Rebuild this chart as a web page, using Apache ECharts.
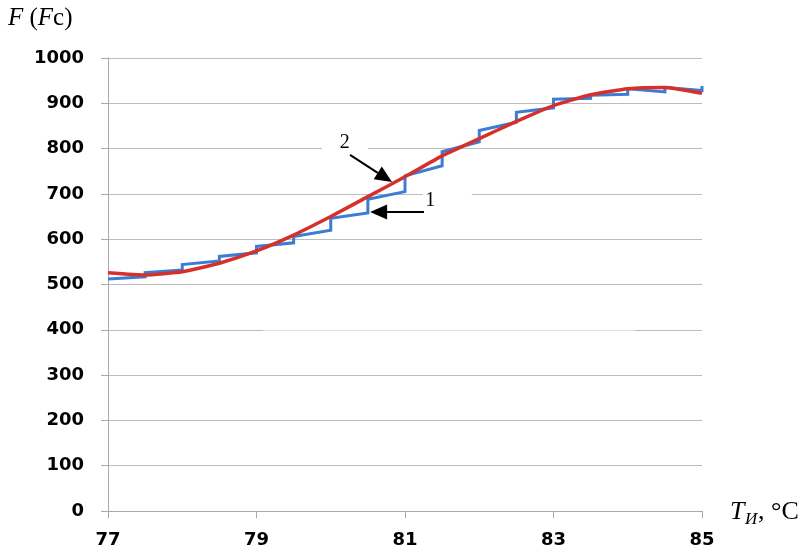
<!DOCTYPE html>
<html>
<head>
<meta charset="utf-8">
<script src="https://cdn.jsdelivr.net/npm/echarts@6/dist/echarts.min.js"></script>
<style>html,body{margin:0;padding:0;background:#fff}#c{width:806px;height:553px}</style>
</head>
<body>
<div id="c"></div>
<script>
// Temperature steps (°C)
const stepX = [77, 77.5, 78, 78.5, 79, 79.5, 80, 80.5, 81, 81.5, 82, 82.5, 83, 83.5, 84, 84.5, 85];
// Curve 1 (stepped): value reached just before each step, and value just after the jump
const stepBefore = [512, 517, 532, 552, 570, 592, 620, 658, 705, 762, 815, 858, 890, 911, 920, 925, 928];
const stepAfter  = [512, 526, 544, 562, 584, 606, 646, 688, 740, 793, 840, 880, 909, 918, 932, 935, 938];
// Curve 2 (smooth)
const smoothY = [526, 521, 528, 547, 574, 609, 650, 694, 738, 784, 822, 860, 895, 919, 932, 935, 922];
// Axis ticks
const xTicks = [77, 79, 81, 83, 85];
const yMin = 0, yMax = 1000, yStep = 100;

const stepData = [];
stepX.forEach((x, i) => { stepData.push([x, stepBefore[i]]); stepData.push([x, stepAfter[i]]); });
const smoothData = stepX.map((x, i) => [x, smoothY[i]]);

const chart = echarts.init(document.getElementById('c'), null, {renderer: 'canvas'});
const gridCol = '#bcbcbc';
chart.setOption({
  animation: false,
  backgroundColor: '#fff',
  grid: {left: 108, right: 104, top: 58, bottom: 42},
  xAxis: {
    type: 'value', min: 77, max: 85, interval: 1,
    axisLine: {show: true, lineStyle: {color: '#a9a9a9', width: 1}},
    axisTick: {show: true, length: 7, customValues: xTicks, lineStyle: {color: '#a9a9a9'}},
    axisLabel: {customValues: xTicks, margin: 20, color: '#000', fontFamily: 'DejaVu Sans', fontWeight: 'bold', fontSize: 18,
                formatter: v => String(v)},
    splitLine: {show: false}
  },
  yAxis: {
    type: 'value', min: yMin, max: yMax, interval: yStep,
    axisLine: {show: true, lineStyle: {color: '#a9a9a9', width: 1}},
    axisTick: {show: true, length: 7, lineStyle: {color: '#a9a9a9'}},
    axisLabel: {margin: 24, color: '#000', fontFamily: 'DejaVu Sans', fontWeight: 'bold', fontSize: 18,
                formatter: v => String(v)},
    splitLine: {show: true, lineStyle: {color: gridCol, width: 1}}
  },
  series: [
    {type: 'line', data: stepData, showSymbol: false, symbol: 'none', z: 3,
     lineStyle: {color: '#3b7dd5', width: 3, join: 'miter'}},
    {type: 'line', data: smoothData, showSymbol: false, symbol: 'none', smooth: 0.15, z: 4,
     lineStyle: {color: '#d5302c', width: 3.5}}
  ]
});

// annotation anchors in data units
const arrow2 = {from: [80.26, 786], to: [80.825, 726], label: [80.19, 812], text: '2'};
const arrow1 = {from: [81.256, 660], to: [80.53, 660], label: [81.34, 685], text: '1'};
const gaps = [
  {x0: 79.88, x1: 80.5, y: 800, opacity: 1},
  {x0: 81.24, x1: 81.9, y: 700, opacity: 1},
  {x0: 79.09, x1: 84.1, y: 400, opacity: 0.55}
];

const px = p => chart.convertToPixel({gridIndex: 0}, p);
const g = [];
gaps.forEach(gp => {
  const a = px([gp.x0, gp.y]), b = px([gp.x1, gp.y]);
  g.push({type: 'rect', z: 1, shape: {x: a[0], y: a[1] - 2, width: b[0] - a[0], height: 4},
          style: {fill: '#fff', opacity: gp.opacity}, silent: true});
});
[arrow2, arrow1].forEach(ar => {
  const s = px(ar.from), t = px(ar.to);
  const dx = t[0] - s[0], dy = t[1] - s[1], L = Math.hypot(dx, dy);
  const ux = dx / L, uy = dy / L, hl = 17, hw = 7.5;
  const bx = t[0] - ux * hl, by = t[1] - uy * hl;
  g.push({type: 'line', z: 10, shape: {x1: s[0], y1: s[1], x2: bx, y2: by}, style: {stroke: '#000', lineWidth: 2}});
  g.push({type: 'polygon', z: 10, shape: {points: [[t[0], t[1]], [bx - uy * hw, by + ux * hw], [bx + uy * hw, by - ux * hw]]},
          style: {fill: '#000'}});
  const lp = px(ar.label);
  g.push({type: 'text', z: 10, x: lp[0], y: lp[1], style: {text: ar.text, fill: '#000', font: '20px "Liberation Serif"', textAlign: 'center', textVerticalAlign: 'middle'}});
});
// axis titles
g.push({type: 'text', z: 10, x: 8, y: 18, style: {
  text: '{i|F} ({i|F}c)', fill: '#000', font: '25px "Liberation Serif"', textVerticalAlign: 'middle',
  rich: {i: {fontStyle: 'italic', fontFamily: 'Liberation Serif', fontSize: 25}}}});
g.push({type: 'text', z: 10, x: 730, y: 512, style: {text: 'T', fill: '#000', font: 'italic 26px "Liberation Serif"', textVerticalAlign: 'middle'}});
g.push({type: 'text', z: 10, x: 745, y: 520, style: {text: 'И', fill: '#000', font: 'italic 17px "Liberation Serif"', textVerticalAlign: 'middle'}});
g.push({type: 'text', z: 10, x: 758, y: 512, style: {text: ', °C', fill: '#000', font: '26px "Liberation Serif"', textVerticalAlign: 'middle'}});
chart.setOption({graphic: g});
</script>
</body>
</html>
